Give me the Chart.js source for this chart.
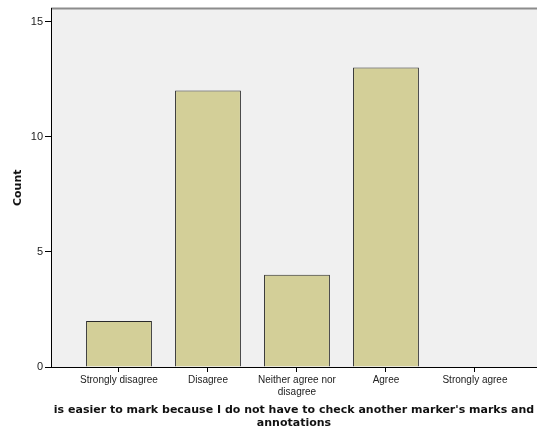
<!DOCTYPE html>
<html>
<head>
<meta charset="utf-8">
<script src="https://cdn.jsdelivr.net/npm/chart.js@4"></script>
<style>
  html, body { margin: 0; padding: 0; background: #fff; }
  #wrap { width: 537px; height: 430px; }
</style>
</head>
<body>
<div id="wrap"><canvas id="canvas" width="537" height="430"></canvas></div>
<script>
const categories = ['Strongly disagree', 'Disagree', ['Neither agree nor', 'disagree'], 'Agree', 'Strongly agree'];
const counts = [2, 12, 4, 13, 0];
const yTicks = [0, 5, 10, 15];
const xTitle = ["is easier to mark because I do not have to check another marker's marks and", 'annotations'];

// plot background and top border like SPSS
const plotFrame = {
    id: 'plotFrame',
    beforeDraw(chart) {
        const { ctx, chartArea: a } = chart;
        ctx.save();
        ctx.fillStyle = '#f0f0f0';
        ctx.fillRect(a.left, a.top, a.right - a.left, a.bottom - a.top);
        ctx.strokeStyle = '#8c8c8c';
        ctx.lineWidth = 2;
        ctx.beginPath();
        ctx.moveTo(a.left, a.top);
        ctx.lineTo(a.right, a.top);
        ctx.stroke();
        ctx.restore();
    }
};

var ctx = document.getElementById('canvas').getContext('2d');
var myChart = new Chart(ctx, {
    type: 'bar',
    data: {
        datasets: [{
            label: 'Count',
            backgroundColor: '#d3cf98',
            borderColor: '#2a2a2a',
            borderWidth: 1,
            borderSkipped: 'bottom',
            barPercentage: 0.74,
            categoryPercentage: 1,
            data: counts.map((v, i) => ({ x: i, y: v }))
        }]
    },
    options: {
        responsive: false,
        animation: false,
        layout: { padding: { top: 7, right: 0, left: 0, bottom: 0 } },
        plugins: { legend: { display: false }, tooltip: { enabled: false } },
        scales: {
            x: {
                type: 'linear',
                offset: false,
                min: -0.764,
                max: 4.697,
                afterBuildTicks: s => { s.ticks = categories.map((c, i) => ({ value: i })); },
                afterFit: s => { s.height = 63; },
                border: { display: true, color: '#000', width: 1 },
                grid: { display: true, offset: false, drawOnChartArea: false, drawTicks: true, tickLength: 5, color: '#000' },
                ticks: {
                    autoSkip: false,
                    maxRotation: 0,
                    padding: 2,
                    color: '#222',
                    font: { family: 'Liberation Sans', size: 10 },
                    callback: v => categories[v]
                },
                title: {
                    display: true,
                    text: xTitle,
                    color: '#111',
                    font: { family: 'DejaVu Sans', size: 11, weight: 'bold', lineHeight: 1.2 },
                    padding: { top: 8, bottom: 0 }
                }
            },
            y: {
                min: 0,
                max: 15.56,
                afterBuildTicks: s => { s.ticks = yTicks.map(v => ({ value: v })); },
                afterFit: s => { s.width = 51; },
                border: { display: true, color: '#000', width: 1 },
                grid: { display: true, drawOnChartArea: false, drawTicks: true, tickLength: 6, color: '#000' },
                ticks: {
                    padding: 2,
                    color: '#222',
                    font: { family: 'Liberation Sans', size: 11 }
                },
                title: {
                    display: true,
                    text: 'Count',
                    color: '#111',
                    font: { family: 'DejaVu Sans', size: 11, weight: 'bold' },
                    padding: { top: 12, bottom: 6 }
                }
            }
        }
    },
    plugins: [plotFrame]
});
</script>
</body>
</html>
